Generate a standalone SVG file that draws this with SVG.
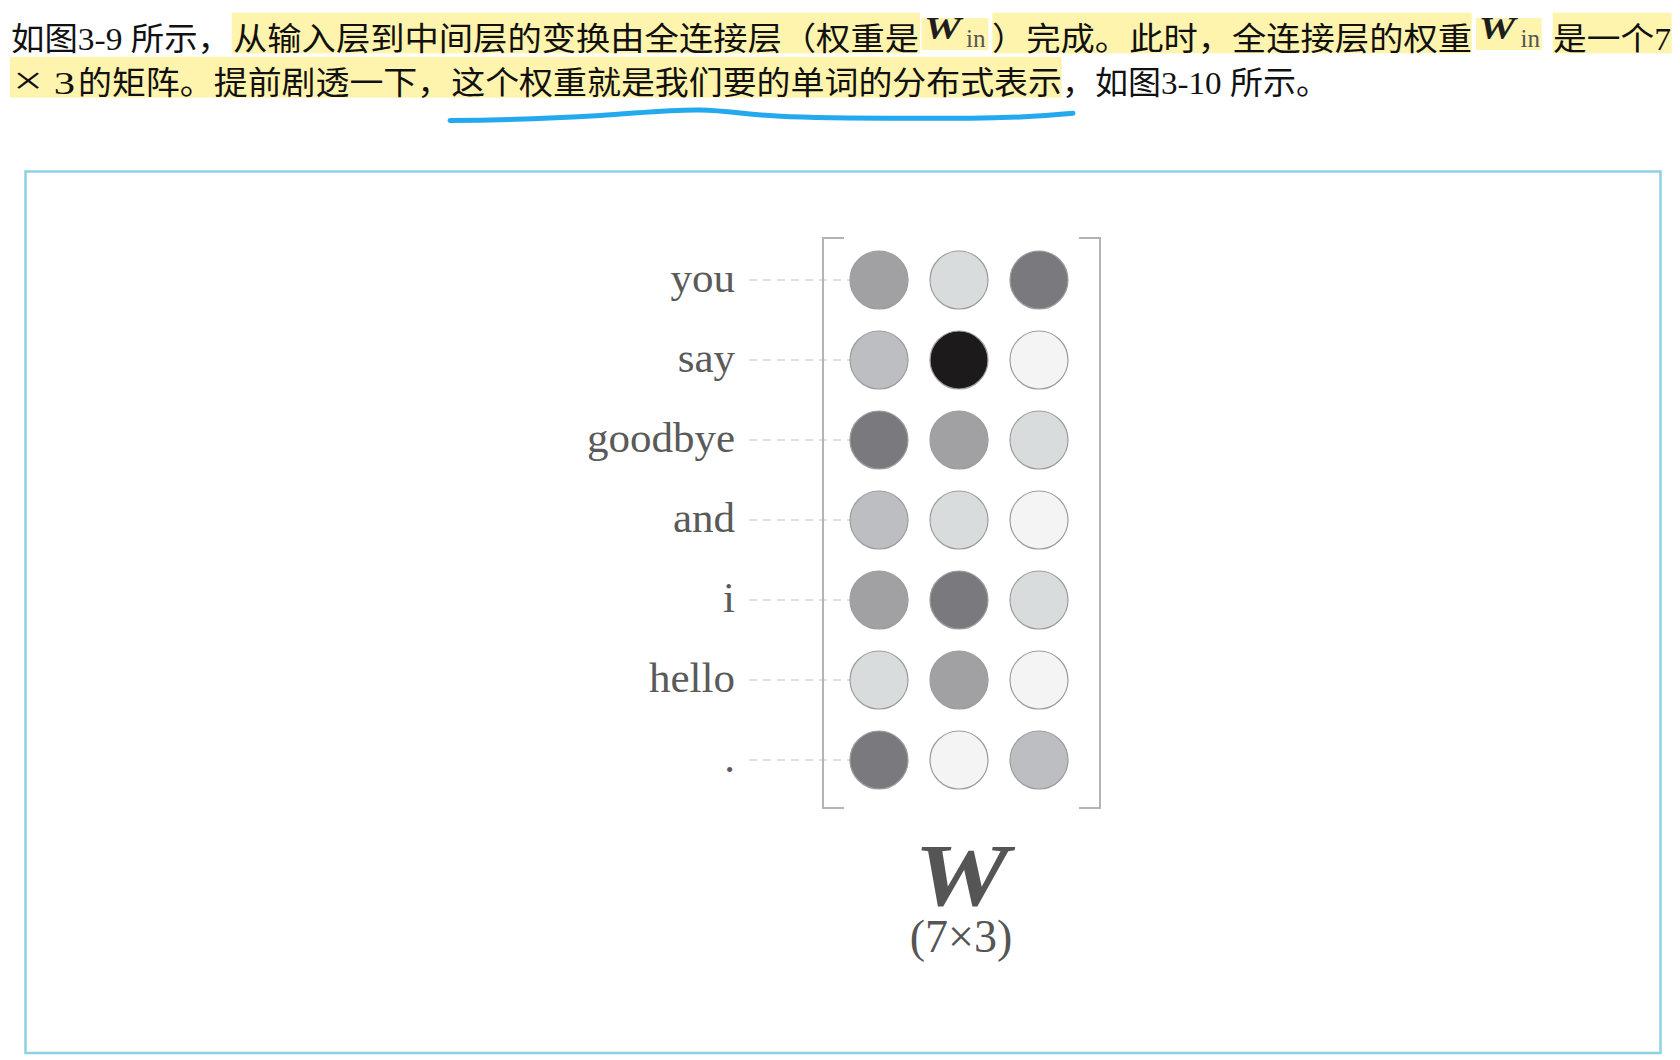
<svg xmlns="http://www.w3.org/2000/svg" width="1680" height="1060" viewBox="0 0 1680 1060">
<style>
.para{font-family:"Liberation Serif","Noto Sans CJK SC",serif;font-size:32px;fill:#111}
.hl{fill:#fff4ad}
.wi{font-family:"Liberation Serif",serif;font-weight:bold;font-style:italic;font-size:31px;fill:#1e1e1e}
.sub{font-family:"Liberation Serif",serif;font-size:25px;fill:#555}
.lbl{font-family:"Liberation Serif",serif;font-size:43px;fill:#5a5a5a;text-anchor:end}
.dot{stroke:#9c9c9c;stroke-width:1.2}
.c1{fill:#f4f4f4}.c2{fill:#d9dcdc}.c3{fill:#bdbec1}.c4{fill:#a1a1a4}.c5{fill:#7a7a7e}.c6{fill:#1d1a1b}
.dash{stroke:#d6d6d6;stroke-width:1.3;stroke-dasharray:8 6;fill:none}
.brk{stroke:#b3b3b3;stroke-width:2;fill:none}
</style>
<rect width="1680" height="1060" fill="#ffffff"/>
<g id="paragraph">
<rect class="hl" x="231.7" y="12.7" width="688.3" height="40.6"/>
<rect class="hl" x="921.7" y="18" width="66.6" height="32"/>
<rect class="hl" x="992.3" y="12.7" width="479.4" height="40.6"/>
<rect class="hl" x="1476" y="18" width="65.7" height="32"/>
<rect class="hl" x="1552.7" y="12.7" width="119" height="40.6"/>
<rect class="hl" x="10" y="56.7" width="1051.7" height="41"/>
<text class="para" x="11" y="50" textLength="220" lengthAdjust="spacingAndGlyphs">如图3-9 所示，</text>
<text class="para" x="233" y="50" textLength="686" lengthAdjust="spacingAndGlyphs">从输入层到中间层的变换由全连接层（权重是</text>
<text class="wi" x="924" y="38.5" textLength="37" lengthAdjust="spacingAndGlyphs">W</text><text class="sub" x="966" y="46.5">in</text>
<text class="para" x="992" y="50" textLength="480" lengthAdjust="spacingAndGlyphs">）完成。此时，全连接层的权重</text>
<text class="wi" x="1478.5" y="38.5" textLength="37" lengthAdjust="spacingAndGlyphs">W</text><text class="sub" x="1520.5" y="46.5">in</text>
<text class="para" x="1553" y="50" textLength="118" lengthAdjust="spacingAndGlyphs">是一个7</text>
<text class="para" x="13" y="94" textLength="62" lengthAdjust="spacingAndGlyphs"><tspan font-size="40">×</tspan> 3 </text>
<text class="para" x="78" y="94" textLength="984" lengthAdjust="spacingAndGlyphs">的矩阵。提前剧透一下，这个权重就是我们要的单词的分布式表示</text>
<text class="para" x="1062" y="94" textLength="267" lengthAdjust="spacingAndGlyphs">，如图3-10 所示。</text>
<path d="M450,120.5 C500,120 560,118 600,115.5 C640,113 670,109.5 700,110 C730,110.5 750,115.5 790,116.8 C840,118.5 900,118.5 970,118.3 C1010,118 1045,116 1073,113.3" fill="none" stroke="#23a9ee" stroke-width="5" stroke-linecap="round"/>
</g>
<rect id="frame" x="25.5" y="171.5" width="1635" height="881.5" fill="none" stroke="#8fd1e3" stroke-width="2.5"/>
<g id="connectors">
<line class="dash" x1="749" y1="280" x2="850" y2="280"/>
<line class="dash" x1="749" y1="360" x2="850" y2="360"/>
<line class="dash" x1="749" y1="440" x2="850" y2="440"/>
<line class="dash" x1="749" y1="520" x2="850" y2="520"/>
<line class="dash" x1="749" y1="600" x2="850" y2="600"/>
<line class="dash" x1="749" y1="680" x2="850" y2="680"/>
<line class="dash" x1="749" y1="760" x2="850" y2="760"/>
</g>
<g id="bracket">
<path class="brk" d="M844,238 H823 V808 H844"/>
<path class="brk" d="M1079,238 H1100 V808 H1079"/>
</g>
<g id="row-you">
<text class="lbl" x="735" y="292">you</text>
<circle class="dot c4" cx="879" cy="280" r="29"/><circle class="dot c2" cx="959" cy="280" r="29"/><circle class="dot c5" cx="1039" cy="280" r="29"/>
</g>
<g id="row-say">
<text class="lbl" x="735" y="372">say</text>
<circle class="dot c3" cx="879" cy="360" r="29"/><circle class="dot c6" cx="959" cy="360" r="29"/><circle class="dot c1" cx="1039" cy="360" r="29"/>
</g>
<g id="row-goodbye">
<text class="lbl" x="735" y="452">goodbye</text>
<circle class="dot c5" cx="879" cy="440" r="29"/><circle class="dot c4" cx="959" cy="440" r="29"/><circle class="dot c2" cx="1039" cy="440" r="29"/>
</g>
<g id="row-and">
<text class="lbl" x="735" y="532">and</text>
<circle class="dot c3" cx="879" cy="520" r="29"/><circle class="dot c2" cx="959" cy="520" r="29"/><circle class="dot c1" cx="1039" cy="520" r="29"/>
</g>
<g id="row-i">
<text class="lbl" x="735" y="612">i</text>
<circle class="dot c4" cx="879" cy="600" r="29"/><circle class="dot c5" cx="959" cy="600" r="29"/><circle class="dot c2" cx="1039" cy="600" r="29"/>
</g>
<g id="row-hello">
<text class="lbl" x="735" y="692">hello</text>
<circle class="dot c2" cx="879" cy="680" r="29"/><circle class="dot c4" cx="959" cy="680" r="29"/><circle class="dot c1" cx="1039" cy="680" r="29"/>
</g>
<g id="row-period">
<text class="lbl" x="735" y="772">.</text>
<circle class="dot c5" cx="879" cy="760" r="29"/><circle class="dot c1" cx="959" cy="760" r="29"/><circle class="dot c3" cx="1039" cy="760" r="29"/>
</g>
<g id="matrix-label">
<text x="914" y="905" font-family="Liberation Serif, serif" font-weight="bold" font-style="italic" font-size="88" fill="#555" textLength="95" lengthAdjust="spacingAndGlyphs">W</text>
<text x="961" y="952" font-family="Liberation Serif, serif" font-size="46" fill="#555" text-anchor="middle">(7×3)</text>
</g>
</svg>
